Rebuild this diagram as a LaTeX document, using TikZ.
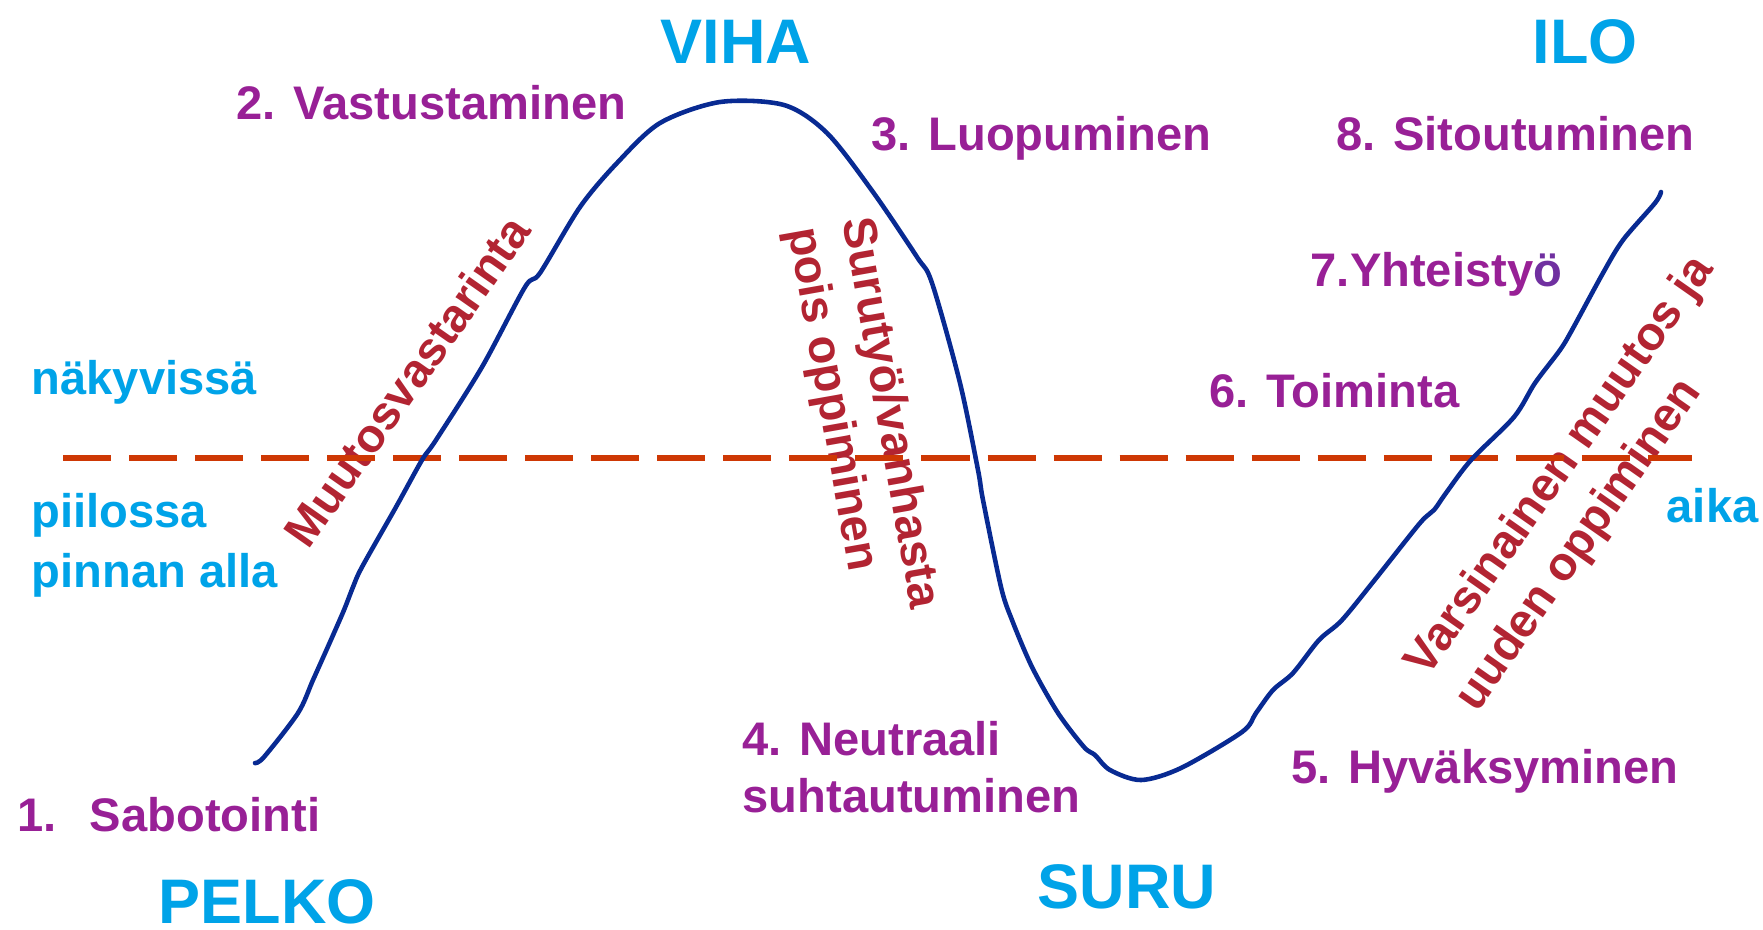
\documentclass[tikz,border=0pt]{standalone}
\usepackage{fontspec}
\setmainfont{Liberation Sans}
\definecolor{labelcyan}{RGB}{0,163,232}
\definecolor{phasepurple}{RGB}{152,32,150}
\definecolor{phaseviolet}{RGB}{112,48,160}
\definecolor{slopered}{RGB}{178,36,50}
\definecolor{surfacered}{RGB}{206,56,4}
\definecolor{curveblue}{RGB}{8,42,146}
\begin{document}
\begin{tikzpicture}[x=0.01cm,y=-0.01cm,
    big label/.style={text=labelcyan,font=\bfseries\fontsize{17.9}{20}\selectfont,inner sep=0,anchor=base west},
    side label/.style={text=labelcyan,font=\bfseries\fontsize{13.4}{16.8}\selectfont,inner sep=0,anchor=base west,align=left},
    phase label/.style={text=phasepurple,font=\bfseries\fontsize{13.4}{16.2}\selectfont,inner sep=0,anchor=base west,align=left},
    slope label/.style={text=slopered,font=\bfseries\fontsize{13.4}{15.6}\selectfont,inner sep=0,align=left},
    surface line/.style={surfacered,line width=1.6pt,dash pattern=on 0.48cm off 0.18cm},
    change curve/.style={curveblue,line width=1.3pt,line join=round,line cap=round}]
    \useasboundingbox (0,0) rectangle (1763,929);
    \node[big label] at (660,63) (viha) {VIHA};
    \node[big label] at (1532,63) (ilo) {ILO};
    \node[big label] at (158,923) (pelko) {PELKO};
    \node[big label] at (1037,908) (suru) {SURU};
    \node[phase label] at (17,831) (sabotointi) {1.\hspace{0.33cm}Sabotointi};
    \node[phase label] at (236,119) (vastustaminen) {2. Vastustaminen};
    \node[phase label] at (871,150) (luopuminen) {3. Luopuminen};
    \node[phase label] at (742,812) (neutraali) {4. Neutraali\\suhtautuminen};
    \node[phase label] at (1291,783) (hyvaksyminen) {5. Hyväksyminen};
    \node[phase label] at (1209,407) (toiminta) {6. Toiminta};
    \node[phase label] at (1310,286) (yhteistyo) {7.Yhteisty\textcolor{phaseviolet}{ö}};
    \node[phase label] at (1336,150) (sitoutuminen) {8. Sitoutuminen};
    \node[side label] at (31,394) (nakyvissa) {näkyvissä};
    \node[side label] at (31,587) (piilossa) {piilossa\\pinnan alla};
    \node[side label] at (1666,522) (aika) {aika};
    \node[slope label,rotate=55] at (407,381) (muutosvastarinta) {Muutosvastarinta};
    \node[slope label,rotate=-80] at (862,418) (surutyo) {Surutyö/vanhasta\\pois oppiminen};
    \node[slope label,rotate=55,font=\bfseries\fontsize{13.4}{17.1}\selectfont] at (1586,484) (varsinainen) {Varsinainen muutos ja\\uuden oppiminen};
    \draw[surface line] (63,458) -- (1692,458);
    \draw[change curve] plot[smooth,tension=0.5] coordinates {
        (255,763) (264,757) (298,713) (313,680) (330,642) (344,610) (353,587)
        (362,567) (396,507) (422,460) (436,440) (482,367) (525,287) (540,273)
        (580,207) (617,163) (660,123) (720,102) (784,105) (827,133) (873,192)
        (917,257) (932,283) (960,383) (978,470) (983,500) (1001,587) (1012,620)
        (1032,667) (1058,713) (1084,747) (1095,755) (1110,770) (1141,780)
        (1181,768) (1242,732) (1256,713) (1273,690) (1293,673) (1319,640)
        (1342,620) (1377,577) (1420,523) (1434,510) (1446,493) (1471,460)
        (1514,417) (1535,383) (1560,350) (1572,330) (1603,273) (1623,240)
        (1655,203) (1661,192)};
\end{tikzpicture}
\end{document}
